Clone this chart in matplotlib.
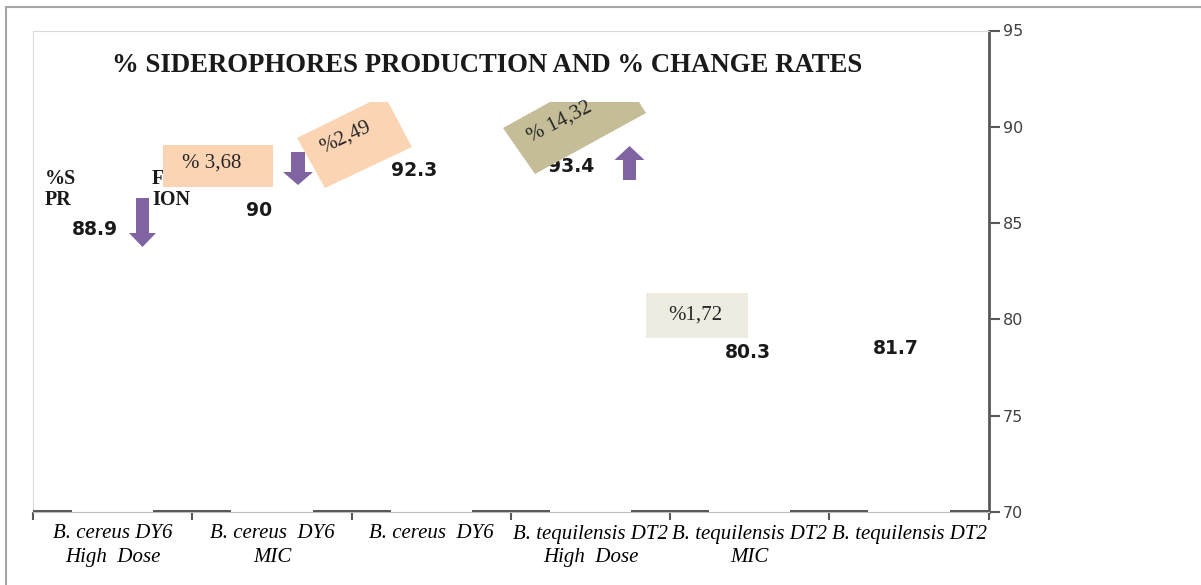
import matplotlib
matplotlib.use("Agg")
from matplotlib import pyplot as plt
from matplotlib.patches import Polygon, Rectangle
from matplotlib.lines import Line2D

# Données du graphique
categories = ["B. cereus DY6\nHigh  Dose", "B. cereus  DY6\nMIC", "B. cereus  DY6",
              "B. tequilensis DT2\nHigh  Dose", "B. tequilensis DT2\nMIC", "B. tequilensis DT2"]
siderophores = [88.9, 90, 92.3, 93.4, 80.3, 81.7]
serie_a = [0.12, 0.12, 0.12, 0.12, 0.12, 0.12]
serie_b = [0.12, 0.12, 0.12, 0.12, 0.12, 0.12]
taux = ["% 3,68", "%2,49", "% 14,32", "%1,72"]
yticks = [70, 75, 80, 85, 90, 95]

W, H = 1201, 585
GRIS = "#595959"
VIOLET = "#8064A2"


def P(px, py):
    """pixel (depuis le coin haut-gauche) -> fraction de figure"""
    return px / W, 1 - py / H


def fleche(cx, haut, bas, tige, tete, long_tete, vers_bas=True):
    if vers_bas:
        yb = bas - long_tete
        pts = [(cx - tige / 2, haut), (cx + tige / 2, haut), (cx + tige / 2, yb),
               (cx + tete / 2, yb), (cx, bas), (cx - tete / 2, yb), (cx - tige / 2, yb)]
    else:
        yh = haut + long_tete
        pts = [(cx - tige / 2, bas), (cx + tige / 2, bas), (cx + tige / 2, yh),
               (cx + tete / 2, yh), (cx, haut), (cx - tete / 2, yh), (cx - tige / 2, yh)]
    fig.patches.append(Polygon([P(*p) for p in pts], closed=True, facecolor=VIOLET,
                               edgecolor="none", transform=fig.transFigure, zorder=5))


fig = plt.figure(figsize=(W / 100, H / 100), dpi=100)
ax = fig.add_axes([33 / W, 1 - 512 / H, (988.7 - 33) / W, (512 - 30.5) / H])

x = list(range(len(categories)))
ax.bar(x, serie_a, width=0.245, bottom=70, align="edge", color=GRIS, zorder=3)
ax.bar([i + 0.755 for i in x], serie_b, width=0.245, bottom=70, align="edge", color=GRIS, zorder=3)

ax.set_xlim(0, len(categories))
ax.set_ylim(70, 95)
ax.set_xticks(range(len(categories) + 1))
ax.set_xticklabels([])
ax.set_xticks([i + 0.5 for i in x], minor=True)
ax.set_xticklabels(categories, minor=True, family="Liberation Serif", style="italic",
                   fontsize=15, linespacing=1.3)
ax.tick_params(axis="x", which="major", length=6, width=1.5, color=GRIS, direction="out")
ax.tick_params(axis="x", which="minor", length=0, pad=9)

ax.yaxis.tick_right()
ax.set_yticks(yticks)
ax.set_yticklabels([str(v) for v in yticks], family="DejaVu Sans", fontsize=11.5, color="#404040")
ax.tick_params(axis="y", length=8, width=1.5, color=GRIS, pad=2, direction="out")

for s in ["top", "left"]:
    ax.spines[s].set_color("#d9d9d9")
ax.spines["bottom"].set_color("#bfbfbf")
ax.spines["right"].set_color(GRIS)
ax.spines["right"].set_linewidth(2)

# cadre extérieur
fig.lines.append(Line2D([6 / W, 1], [1 - 7 / H, 1 - 7 / H], color="#a6a6a6", lw=1.5,
                        transform=fig.transFigure))
fig.lines.append(Line2D([6 / W, 6 / W], [0, 1 - 7 / H], color="#a6a6a6", lw=1.5,
                        transform=fig.transFigure))

fig.text(*P(487.5, 65), "% SIDEROPHORES PRODUCTION AND % CHANGE RATES", ha="center", va="center",
         family="Liberation Serif", weight="bold", fontsize=19.3, color="#1a1a1a")

# restes du titre d'axe masqué
for (px, py, t) in [(45, 179, "%S"), (45, 200, "PR"), (152, 179, "FO"), (152, 200, "ION")]:
    fig.text(*P(px, py), t, ha="left", va="center", family="Liberation Serif", weight="bold",
             fontsize=14.5, color="#1a1a1a", zorder=2)

# étiquettes de données
pos_etiq = [(95, 230), (259, 210), (414, 170), (571, 167), (748, 353), (896, 349)]
for v, (px, py) in zip(siderophores, pos_etiq):
    fig.text(*P(px, py), str(v), ha="center", va="center", family="DejaVu Sans", weight="bold",
             fontsize=13.5, color="#1a1a1a", zorder=2)

# boîtes des taux de variation
fig.patches.append(Rectangle(P(163, 187), 110 / W, 42 / H, facecolor="#FBD4B4", edgecolor="none",
                             transform=fig.transFigure, zorder=4))
fig.patches.append(Polygon([P(297, 138), P(370, 102), P(388, 102), P(412, 147), P(325, 188)],
                           closed=True, facecolor="#FBD4B4", edgecolor="none",
                           transform=fig.transFigure, zorder=4))
fig.patches.append(Polygon([P(503, 128), P(550, 102), P(639, 102), P(646, 113), P(535, 174)],
                           closed=True, facecolor="#C4BD97", edgecolor="none",
                           transform=fig.transFigure, zorder=4))
fig.patches.append(Rectangle(P(646, 338), 102 / W, 45 / H, facecolor="#EEECE1", edgecolor="none",
                             transform=fig.transFigure, zorder=4))

pos_taux = [(212, 163, 0), (345, 137, 25), (560, 122, 27), (695, 315, 0)]
for t, (px, py, rot) in zip(taux, pos_taux):
    fig.text(*P(px, py), t, ha="center", va="center", rotation=rot, rotation_mode="anchor",
             family="Liberation Serif", fontsize=15, color="#262626", zorder=6)

fleche(142.5, 198, 247, 13, 27, 14)
fleche(298, 152, 185, 14, 30, 13)
fleche(629.5, 146, 180, 13, 30, 14, vers_bas=False)

fig.savefig("out.png", dpi=100)
